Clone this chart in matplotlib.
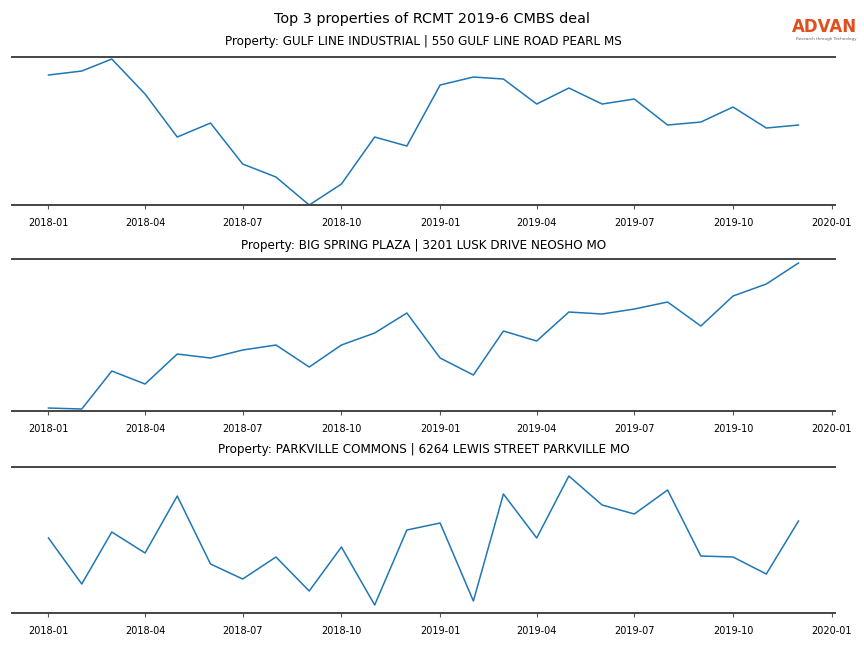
import numpy as np
import pandas as pd
import matplotlib
matplotlib.use("Agg")
import matplotlib.pyplot as plt
import matplotlib.dates as mdates

# monthly activity index (no y axis shown)
months = pd.date_range("2018-01-01", "2019-12-01", freq="MS")

titles = [
    "Property: GULF LINE INDUSTRIAL | 550 GULF LINE ROAD PEARL MS",
    "Property: BIG SPRING PLAZA | 3201 LUSK DRIVE NEOSHO MO",
    "Property: PARKVILLE COMMONS | 6264 LEWIS STREET PARKVILLE MO",
]

gulf_line = [130, 134, 146, 111, 68, 82, 41, 28, 0, 21, 68, 59,
             120, 128, 126, 101, 117, 101, 106, 80, 83, 98, 77, 80]
big_spring = [3, 2, 40, 27, 57, 53, 61, 66, 44, 66, 78, 98,
              53, 36, 80, 70, 99, 97, 102, 109, 85, 115, 127, 148]
parkville = [75, 29, 81, 60, 117, 49, 34, 56, 22, 66, 8, 83,
             90, 12, 119, 75, 137, 108, 99, 123, 57, 56, 39, 92]

series = [gulf_line, big_spring, parkville]
ylims = [(0, 148), (0, 152), (0, 146)]

boxes = [(0.6836, 0.912), (0.3657, 0.6003), (0.054, 0.2793)]
title_pads = [8.5, 7, 10]

fig = plt.figure(figsize=(8.64, 6.48), dpi=100)
fig.suptitle("Top 3 properties of RCMT 2019-6 CMBS deal", fontsize=10.4, y=0.981)

for vals, title, yl, (b, t), pad in zip(series, titles, ylims, boxes, title_pads):
    ax = fig.add_axes([0.0139, b, 0.9525, t - b])
    ax.plot(months, vals, color="#1f77b4", linewidth=1.1)
    ax.set_ylim(*yl)
    ax.set_title(title, fontsize=8.65, pad=pad)
    ax.xaxis.set_major_locator(mdates.MonthLocator(bymonth=[1, 4, 7, 10]))
    ax.xaxis.set_major_formatter(mdates.DateFormatter("%Y-%m"))
    ax.set_xlim(pd.Timestamp("2017-11-28"), pd.Timestamp("2020-01-04"))
    ax.tick_params(axis="x", labelsize=7, length=3, width=0.8,
                   color="#555555", pad=6)
    ax.set_yticks([])
    for side in ("left", "right"):
        ax.spines[side].set_visible(False)
    for side in ("top", "bottom"):
        ax.spines[side].set_color("#444444")
        ax.spines[side].set_linewidth(1.4)

# logo
fig.text(0.992, 0.958, "ADVAN", ha="right", va="center", fontsize=12,
         fontweight="semibold", color="#e0501e")
fig.text(0.991, 0.940, "Research through Technology", ha="right",
         va="center", fontsize=3, color="#666666")

fig.savefig("out.png", dpi=100)
